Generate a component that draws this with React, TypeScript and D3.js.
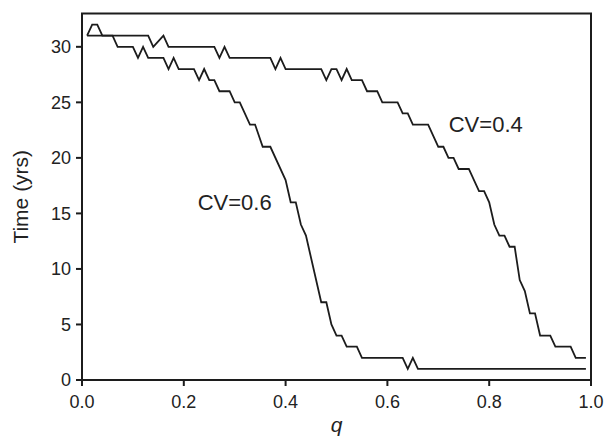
import React from "react";
import * as d3 from "d3";

// Data: polyline vertices [q, time]
const cv04Q = [0.01,0.02,0.03,0.04,0.13,0.14,0.16,0.17,0.26,0.27,0.28,0.29,0.37,0.38,0.39,0.40,0.47,0.48,0.49,0.50,0.51,0.52,0.53,0.55,0.56,0.58,0.59,0.62,0.63,0.64,0.65,0.68,0.70,0.71,0.72,0.73,0.74,0.76,0.78,0.79,0.80,0.81,0.82,0.83,0.84,0.85,0.86,0.87,0.88,0.89,0.90,0.92,0.93,0.96,0.97,0.99];
const cv04T = [31,32,32,31,31,30,31,30,30,29,30,29,29,28,29,28,28,27,28,28,27,28,27,27,26,26,25,25,24,24,23,23,21,21,20,20,19,19,17,17,16,14,13,13,12,12,9,8,6,6,4,4,3,3,2,2];

const cv06Q = [0.01,0.06,0.07,0.10,0.11,0.12,0.13,0.16,0.17,0.18,0.19,0.22,0.23,0.24,0.25,0.26,0.27,0.29,0.30,0.31,0.33,0.34,0.355,0.37,0.40,0.41,0.42,0.43,0.44,0.47,0.48,0.49,0.50,0.51,0.52,0.54,0.55,0.63,0.64,0.65,0.66,0.99];
const cv06T = [31,31,30,30,29,30,29,29,28,29,28,28,27,28,27,27,26,26,25,25,23,23,21,21,18,16,16,14,13,7,7,5,4,4,3,3,2,2,1,2,1,1];

const xTicks = [0, 0.2, 0.4, 0.6, 0.8, 1.0];
const yTicks = [0, 5, 10, 15, 20, 25, 30];

const labels = [
  { text: "CV=0.4", q: 0.7205, t: 22.35 },
  { text: "CV=0.6", q: 0.2273, t: 15.3 },
];

const FONT = "'Liberation Sans', Arial, Helvetica, sans-serif";

export default function App() {
  const W = 605, H = 438;
  const x = d3.scaleLinear().domain([0, 1]).range([82, 591]);
  const y = d3.scaleLinear().domain([0, 33]).range([380, 13.5]);
  const line = d3.line<[number, number]>().x(d => x(d[0])).y(d => y(d[1]));
  const s04 = cv04Q.map((q, i) => [q, cv04T[i]] as [number, number]);
  const s06 = cv06Q.map((q, i) => [q, cv06T[i]] as [number, number]);
  const [x0, x1] = x.range();
  const [y0, y1] = y.range();
  const ink = "#1c1c1c";

  return (
    <svg width={W} height={H} style={{ position: "absolute", left: 0, top: 0, background: "#fff" }} fontFamily={FONT}>
      <rect x={0} y={0} width={W} height={H} fill="#fff" />
      {/* frame */}
      <rect x={x0} y={y1} width={x1 - x0} height={y0 - y1} fill="none" stroke={ink} strokeWidth={2} />
      {/* y ticks */}
      {yTicks.map(t => (
        <g key={"y" + t}>
          <line x1={x0 - 6} x2={x0} y1={y(t)} y2={y(t)} stroke={ink} strokeWidth={2} />
          <text x={71} y={y(t)} dy="0.36em" textAnchor="end" fontSize={18} fill="#222">{t}</text>
        </g>
      ))}
      {/* x ticks */}
      {xTicks.map(t => (
        <g key={"x" + t}>
          <line x1={x(t)} x2={x(t)} y1={y0} y2={y0 + 6} stroke={ink} strokeWidth={2} />
          <text x={x(t)} y={408} textAnchor="middle" fontSize={18} fill="#222">{t.toFixed(1)}</text>
        </g>
      ))}
      {/* series */}
      <path d={line(s06) || ""} fill="none" stroke={ink} strokeWidth={1.8} strokeLinejoin="miter" />
      <path d={line(s04) || ""} fill="none" stroke={ink} strokeWidth={1.8} strokeLinejoin="miter" />
      {/* labels */}
      {labels.map(l => (
        <text key={l.text} x={x(l.q)} y={y(l.t)} fontSize={22} fill="#222">{l.text}</text>
      ))}
      {/* axis titles */}
      <text x={(x0 + x1) / 2} y={432} textAnchor="middle" fontSize={21} fontStyle="italic" fill="#222">q</text>
      <text transform={`translate(28,${(y0 + y1) / 2}) rotate(-90)`} textAnchor="middle" fontSize={21} fill="#222">Time (yrs)</text>
    </svg>
  );
}
